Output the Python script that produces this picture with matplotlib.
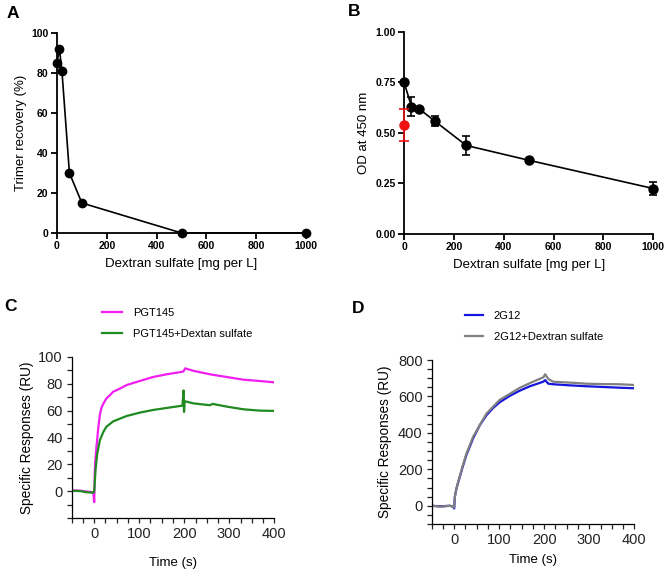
import matplotlib
matplotlib.use("Agg")
import matplotlib.pyplot as plt
from matplotlib.ticker import FixedLocator, MultipleLocator

plt.rcParams['font.family'] = ['Liberation Sans', 'DejaVu Sans']

# Panel A: trimer recovery vs dextran sulfate
a_conc = [0, 10, 20, 50, 100, 500, 1000]
a_recovery = [85, 92, 81, 30, 15, 0, 0]

# Panel B: ELISA OD vs dextran sulfate (black series + red control)
b_conc = [0, 30, 60, 125, 250, 500, 1000]
b_od = [0.752, 0.630, 0.620, 0.557, 0.438, 0.365, 0.225]
b_err = [0.0, 0.048, 0.0, 0.025, 0.046, 0.0, 0.033]
b_ctrl_conc = [0]
b_ctrl_od = [0.539]
b_ctrl_err = [0.077]

# Panel C: SPR sensorgrams, PGT145
c_t_pgt = [-50, -40, -30, -20, -10, -2, 0, 1.5, 3, 5, 9, 12.6, 16, 20, 27, 35, 42, 55, 72,
           101, 131, 161, 198, 202, 220, 257, 275, 294, 331, 368, 400]
c_ru_pgt = [0.8, 0.7, 0.5, 0.0, -0.3, -0.7, -8, 17, 25, 33, 47, 57, 62, 65, 69, 71.5, 74, 76, 79,
            82, 85, 87, 89, 91.4, 89.6, 87, 86, 85, 83, 82, 81]
c_t_ds = [-50, -40, -30, -20, -10, -2, 0, 3, 6.7, 12.6, 20, 27, 42, 72, 101, 131, 161, 196,
          198.5, 199.5, 201, 220, 257, 263, 294, 331, 368, 400]
c_ru_ds = [0.5, 0.3, 0.2, -0.5, -0.8, -1, 0, 16, 28, 38, 44, 48, 52, 56, 58.5, 60.5, 62, 63.7,
           75, 59, 67, 65.4, 64, 65, 63, 61, 60, 59.8]

# Panel D: SPR sensorgrams, 2G12
d_t_2g12 = [-50, -30, -10, -2, 0, 1.5, 5, 12.6, 20, 27, 42, 57, 72, 87, 101, 124, 146, 168,
            198, 202, 209, 220, 257, 294, 331, 368, 400]
d_ru_2g12 = [0, -3, 0, -5, -15, 50, 95, 160, 223, 278, 370, 443, 498, 538, 568, 604, 632, 656,
             681, 690, 670, 667, 661, 656, 652, 648, 645]
d_t_ds = [-50, -30, -10, -2, 0, 1.5, 5, 12.6, 20, 27, 42, 72, 101, 146, 175, 198, 202, 209,
          220, 257, 294, 331, 368, 400]
d_ru_ds = [0, -5, 0, -3, -10, 50, 95, 165, 228, 285, 379, 507, 581, 648, 681, 705, 722, 696,
           681, 676, 670, 668, 667, 663]

fig = plt.figure(figsize=(6.7, 5.79), dpi=100)


def style_prism(ax):
    for s in ['top', 'right']:
        ax.spines[s].set_visible(False)
    for s in ['left', 'bottom']:
        ax.spines[s].set_linewidth(1.3)
    ax.tick_params(width=1.3, length=4, labelsize=7.5, pad=2)
    for lab in ax.get_xticklabels() + ax.get_yticklabels():
        lab.set_fontweight('bold')


def style_spr(ax):
    for s in ['top', 'right']:
        ax.spines[s].set_visible(False)
    for s in ['left', 'bottom']:
        ax.spines[s].set_linewidth(0.9)
    ax.tick_params(which='both', width=0.9, length=3.5, labelsize=10.5, pad=3, colors='#222222')


# A
axA = fig.add_axes([0.085, 0.5976, 0.372, 0.3454])
axA.plot(a_conc, a_recovery, color='black', lw=1.2, marker='o', ms=6, clip_on=False, zorder=3)
axA.set_xlim(0, 1000)
axA.set_ylim(0, 100)
axA.set_xticks([0, 200, 400, 600, 800, 1000])
axA.set_yticks([0, 20, 40, 60, 80, 100])
style_prism(axA)
axA.set_xlabel('Dextran sulfate [mg per L]', fontsize=9.5, labelpad=5)
axA.set_ylabel('Trimer recovery (%)', fontsize=9.5, labelpad=3)

# B
axB = fig.add_axes([0.603, 0.5959, 0.372, 0.349])
axB.errorbar(b_conc, b_od, yerr=b_err, color='black', lw=1.2, marker='o', ms=6.5,
             capsize=3, elinewidth=1.2, capthick=1.2, clip_on=False, zorder=3)
axB.errorbar(b_ctrl_conc, b_ctrl_od, yerr=b_ctrl_err, color='#ee1111', marker='o', ms=6.5,
             capsize=3.3, elinewidth=1.2, capthick=1.2, clip_on=False, zorder=4, ls='none')
axB.set_xlim(0, 1000)
axB.set_ylim(0, 1.0)
axB.set_xticks([0, 200, 400, 600, 800, 1000])
axB.set_yticks([0.0, 0.25, 0.5, 0.75, 1.0])
axB.set_yticklabels(['0.00', '0.25', '0.50', '0.75', '1.00'])
style_prism(axB)
axB.set_xlabel('Dextran sulfate [mg per L]', fontsize=9.5, labelpad=5)
axB.set_ylabel('OD at 450 nm', fontsize=9.5, labelpad=4)

# C
axC = fig.add_axes([0.107, 0.1048, 0.3024, 0.279])
axC.plot(c_t_pgt, c_ru_pgt, color='#f01ef0', lw=1.6, label='PGT145')
axC.plot(c_t_ds, c_ru_ds, color='#1f8a1f', lw=1.6, label='PGT145+Dextan sulfate')
axC.set_xlim(-50, 400)
axC.set_ylim(-20, 100)
axC.xaxis.set_major_locator(FixedLocator([0, 100, 200, 300, 400]))
axC.xaxis.set_minor_locator(MultipleLocator(25))
axC.yaxis.set_major_locator(FixedLocator([0, 20, 40, 60, 80, 100]))
axC.yaxis.set_minor_locator(MultipleLocator(10))
style_spr(axC)
axC.set_xlabel('Time (s)', fontsize=9.5, labelpad=11)
axC.set_ylabel('Specific Responses (RU)', fontsize=9.8, labelpad=3)
axC.legend(loc='upper left', bbox_to_anchor=(0.152, 0.468), bbox_transform=fig.transFigure,
           frameon=False, fontsize=8, handlelength=1.8, handletextpad=1.0, labelspacing=1.0,
           borderpad=0, borderaxespad=0)

# D
axD = fig.add_axes([0.6443, 0.095, 0.3024, 0.2832])
axD.plot(d_t_2g12, d_ru_2g12, color='#1515dd', lw=1.6, label='2G12')
axD.plot(d_t_ds, d_ru_ds, color='#808080', lw=1.6, label='2G12+Dextran sulfate')
axD.set_xlim(-50, 400)
axD.set_ylim(-100, 800)
axD.xaxis.set_major_locator(FixedLocator([0, 100, 200, 300, 400]))
axD.xaxis.set_minor_locator(MultipleLocator(25))
axD.yaxis.set_major_locator(FixedLocator([0, 200, 400, 600, 800]))
axD.yaxis.set_minor_locator(MultipleLocator(50))
style_spr(axD)
axD.set_xlabel('Time (s)', fontsize=9.5, labelpad=5)
axD.set_ylabel('Specific Responses (RU)', fontsize=9.8, labelpad=4)
axD.legend(loc='upper left', bbox_to_anchor=(0.694, 0.463), bbox_transform=fig.transFigure,
           frameon=False, fontsize=8, handlelength=1.6, handletextpad=1.0, labelspacing=1.0,
           borderpad=0, borderaxespad=0)

# panel letters
for letter, x, y in [('A', 0.010, 0.976), ('B', 0.519, 0.981), ('C', 0.006, 0.471), ('D', 0.525, 0.468)]:
    fig.text(x, y, letter, fontsize=12.5, fontweight='bold', va='center', ha='left')

fig.savefig('out.png', dpi=100)
